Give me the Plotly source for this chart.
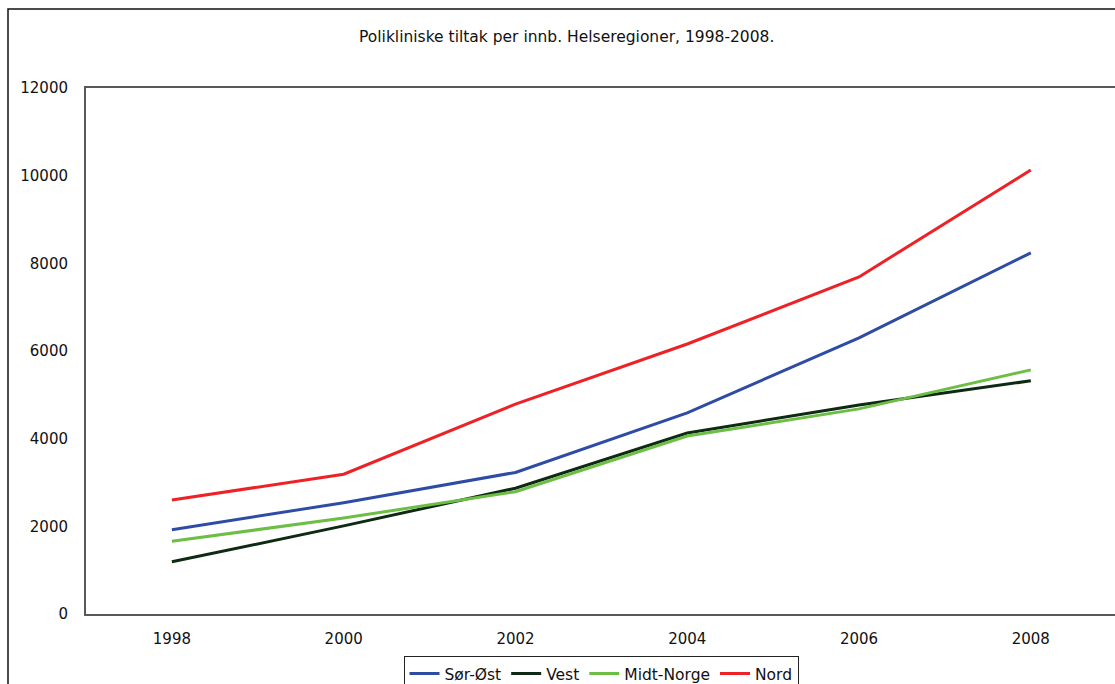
import plotly.graph_objects as go

years = [1998, 2000, 2002, 2004, 2006, 2008]
sor_ost = [1920, 2540, 3230, 4590, 6300, 8240]
vest = [1190, 2010, 2870, 4130, 4770, 5320]
midt_norge = [1660, 2190, 2790, 4060, 4680, 5570]
nord = [2600, 3190, 4790, 6160, 7690, 10130]

y_ticks = [0, 2000, 4000, 6000, 8000, 10000, 12000]

series = [
    ("Sør-Øst", sor_ost, "#2F4CA5"),
    ("Vest", vest, "#0E2A12"),
    ("Midt-Norge", midt_norge, "#6CBE45"),
    ("Nord", nord, "#EE2226"),
]

font_family = "DejaVu Sans, Verdana, sans-serif"

fig = go.Figure()
for name, values, color in series:
    fig.add_trace(go.Scatter(
        x=years, y=values, name=name, mode="lines",
        line=dict(color=color, width=3),
    ))

fig.update_layout(
    width=1115, height=684,
    margin=dict(l=86, r=0, t=88, b=70, autoexpand=False),
    paper_bgcolor="white", plot_bgcolor="white",
    font=dict(family=font_family, size=15, color="#111111"),
    showlegend=True,
    legend=dict(
        orientation="h", xref="paper", x=0.5005, xanchor="center",
        yref="container", y=0.041, yanchor="top",
        bordercolor="#222222", borderwidth=1, bgcolor="white",
        font=dict(size=15.5), itemwidth=30, tracegroupgap=0,
    ),
    annotations=[dict(
        text="Polikliniske tiltak per innb. Helseregioner, 1998-2008.",
        xref="paper", yref="paper", x=0.4674, y=1.097,
        xanchor="center", yanchor="middle", showarrow=False,
        font=dict(size=15.5, color="#111111"),
    )],
    shapes=[dict(
        type="rect", xref="paper", yref="paper",
        x0=-0.0758, x1=1.05, y0=-0.3, y1=1.150,
        line=dict(color="#111111", width=1.5), layer="below",
    )],
)

fig.update_xaxes(
    range=[1997, 2008.98], tickvals=years, ticktext=[str(y) for y in years],
    showgrid=False, zeroline=False, showline=True, mirror=True,
    linecolor="#595959", linewidth=2, ticks="", ticklabelstandoff=10,
    automargin=False,
)
fig.update_yaxes(
    range=[0, 12000], tickvals=y_ticks, ticktext=[str(v) for v in y_ticks],
    showgrid=False, zeroline=False, showline=True,
    linecolor="#595959", linewidth=2, ticks="", ticklabelstandoff=13,
    automargin=False,
)

fig.write_html("out.html")
